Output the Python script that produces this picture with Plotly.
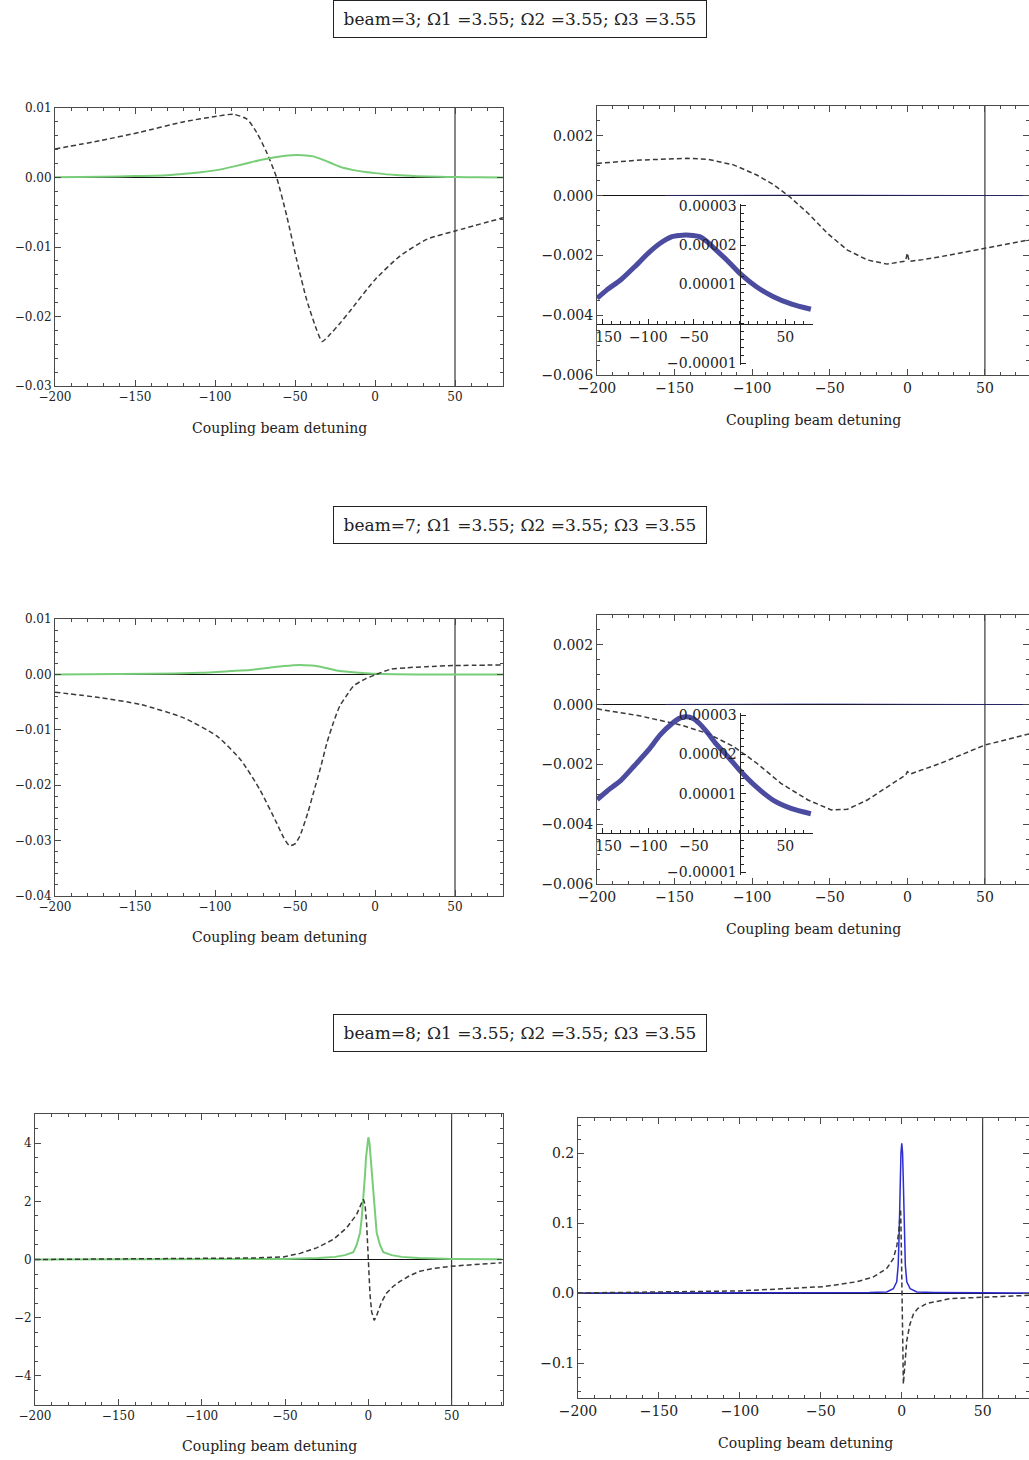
import plotly.graph_objects as go

W, H = 1029, 1460

# ---------------- data ----------------
titles = ["beam=3; \u03a91 =3.55; \u03a92 =3.55; \u03a93 =3.55",
          "beam=7; \u03a91 =3.55; \u03a92 =3.55; \u03a93 =3.55",
          "beam=8; \u03a91 =3.55; \u03a92 =3.55; \u03a93 =3.55"]
x_title = "Coupling beam detuning"
axes_origin_x = 50

# Panel 1 (beam=3, left)
p1_dash_x = [-200, -172, -147, -120, -99, -88.5, -80, -74, -67.7, -61.5, -55.2, -49, -42.7, -36.5, -33, -29, -22, -15.6, 0, 15.6, 32.3, 50, 80]
p1_dash_y = [0.0041, 0.0053, 0.0065, 0.0080, 0.0088, 0.0091, 0.0084, 0.0065, 0.0036, 0.0, -0.0055, -0.0118, -0.0176, -0.0219, -0.0236, -0.0228, -0.0210, -0.0192, -0.0147, -0.0113, -0.0089, -0.0077, -0.0058]
p1_green_x = [-200, -170, -150, -130, -115, -99, -88, -78, -70, -63.5, -56, -49, -43, -38.5, -32, -26, -20, -13.5, -6, 0, 13, 26, 40, 50, 65, 80]
p1_green_y = [0.00005, 0.0001, 0.0002, 0.00034, 0.0006, 0.00106, 0.0016, 0.00217, 0.0026, 0.00289, 0.00313, 0.00323, 0.00318, 0.00304, 0.0025, 0.00193, 0.0014, 0.00106, 0.0008, 0.00063, 0.00035, 0.00019, 0.0001, 0.00006, 0.00003, 0.00001]

# Panel 2 (beam=3, right)
p2_dash_x = [-200, -172, -142, -129, -112, -97, -86, -76, -64, -51.5, -38.6, -25.8, -12.9, -4.3, -1.2, 0, 1.2, 10, 21.5, 50, 78.4]
p2_dash_y = [0.00108, 0.00119, 0.00125, 0.00122, 0.00103, 0.00069, 0.00036, -0.00003, -0.00059, -0.00126, -0.00182, -0.00215, -0.00229, -0.00222, -0.00219, -0.00192, -0.00220, -0.00214, -0.00204, -0.00176, -0.00148]
inset_x = [-156, -145, -130, -115, -100, -87, -74, -66, -59, -51, -44, -35, -26, -13, 0, 18, 37, 57, 78]
p2_inset_y = [0.65e-5, 0.87e-5, 1.12e-5, 1.45e-5, 1.80e-5, 2.05e-5, 2.22e-5, 2.25e-5, 2.26e-5, 2.25e-5, 2.22e-5, 2.08e-5, 1.88e-5, 1.60e-5, 1.29e-5, 0.95e-5, 0.69e-5, 0.50e-5, 0.37e-5]

# Panel 3 (beam=7, left)
p3_dash_x = [-200, -172, -147, -120, -99, -84, -72, -61.5, -57, -53.5, -50, -47, -42, -38.5, -34, -30, -26, -22, -17, -13.5, -6, 0, 9.4, 20, 32, 50, 80]
p3_dash_y = [-0.0032, -0.0042, -0.0054, -0.0078, -0.0111, -0.0154, -0.0208, -0.0268, -0.0295, -0.0309, -0.0306, -0.0292, -0.0250, -0.0214, -0.0168, -0.0123, -0.0087, -0.0057, -0.0035, -0.0021, -0.0008, -0.0001, 0.0009, 0.0012, 0.0014, 0.0016, 0.0017]
p3_green_x = [-200, -140, -109, -90, -78, -66, -57, -47, -40, -36.5, -30, -22, -10, 0, 26, 80]
p3_green_y = [0.0, 0.0001, 0.0003, 0.0006, 0.0008, 0.0012, 0.0015, 0.0017, 0.0016, 0.0015, 0.0011, 0.0006, 0.0003, 0.0001, 0.0, 0.0]

# Panel 4 (beam=7, right)
p4_dash_x = [-200, -172, -146, -129, -112, -97, -81.5, -64, -49, -38.6, -25.8, -10.7, -1, 0, 2, 21.5, 50, 78.4]
p4_dash_y = [-0.00014, -0.00038, -0.00068, -0.00096, -0.00140, -0.00196, -0.00263, -0.00319, -0.00352, -0.00350, -0.00319, -0.00269, -0.00235, -0.00224, -0.00232, -0.00196, -0.00135, -0.00098]
p4_inset_y = [0.85e-5, 1.07e-5, 1.34e-5, 1.72e-5, 2.11e-5, 2.50e-5, 2.79e-5, 2.92e-5, 2.96e-5, 2.92e-5, 2.79e-5, 2.55e-5, 2.28e-5, 1.95e-5, 1.60e-5, 1.18e-5, 0.83e-5, 0.62e-5, 0.49e-5]

# Panel 5 (beam=8, left)
p5_green_x = [-200, -100, -50, -30, -20, -14, -9, -7, -5, -4, -3, -2, -1.4, -0.7, 0, 0.7, 1.4, 2, 3, 4, 5, 7, 9, 14, 20, 30, 50, 80]
p5_green_y = [0.0, 0.01, 0.02, 0.05, 0.09, 0.15, 0.25, 0.5, 0.92, 1.4, 2.07, 2.9, 3.5, 4.0, 4.2, 4.0, 3.5, 2.9, 2.07, 1.4, 0.92, 0.5, 0.25, 0.15, 0.09, 0.05, 0.02, 0.01]
p5_dash_x = [-200, -150, -101, -70, -51, -41, -31, -21, -13, -7, -4, -3, -2, -1, 0, 1, 2, 3, 3.5, 4.5, 6, 8, 11, 15, 19, 25, 31, 40, 50, 65, 80]
p5_dash_y = [0.0, 0.01, 0.02, 0.05, 0.09, 0.21, 0.40, 0.69, 1.09, 1.55, 1.95, 2.07, 1.9, 1.2, 0.0, -1.2, -1.8, -2.05, -2.09, -2.0, -1.75, -1.45, -1.15, -0.92, -0.75, -0.55, -0.40, -0.30, -0.23, -0.16, -0.11]

# Panel 6 (beam=8, right)
p6_blue_x = [-200, -100, -50, -20, -9.3, -5.2, -3.1, -2.2, -1.6, -1, -0.5, 0, 0.5, 1, 1.6, 2.2, 3.1, 5.2, 9.3, 20, 50, 78.6]
p6_blue_y = [0.0, 0.0, 0.0003, 0.0008, 0.0015, 0.006, 0.016, 0.04, 0.085, 0.156, 0.20, 0.214, 0.20, 0.156, 0.085, 0.04, 0.016, 0.006, 0.0015, 0.0008, 0.0003, 0.0]
p6_dash_x = [-200, -100, -48.5, -27.8, -17.5, -9.3, -5.2, -3, -2, -1.2, -0.7, -0.3, 0, 0.3, 0.6, 1, 1.5, 2, 3.1, 5, 7.2, 10, 15.5, 30, 50, 78.6]
p6_dash_y = [0.0, 0.003, 0.009, 0.016, 0.023, 0.035, 0.049, 0.068, 0.085, 0.115, 0.12, 0.07, 0.0, -0.06, -0.10, -0.13, -0.115, -0.096, -0.068, -0.045, -0.030, -0.022, -0.015, -0.008, -0.0057, -0.0033]

inset_xticks = [-150, -100, -50, 50]
inset_yticks = [-1e-5, 1e-5, 2e-5, 3e-5]
inset_yticktext = ["\u22120.00001", "0.00001", "0.00002", "0.00003"]

# ---------------- styling / layout helpers ----------------
FONT = "DejaVu Serif, Liberation Serif, serif"
FRAME = "#4a4a4a"
DASH = dict(color="#3a3a3a", width=1.5, dash="5px,3px")
GREEN = dict(color="rgb(120,205,120)", width=2)
INSET_BLUE = dict(color="rgba(55,55,150,0.9)", width=5)
MAIN_BLUE = dict(color="rgba(60,60,170,0.55)", width=1)
THIN_BLUE = dict(color="rgb(45,45,210)", width=1.5)


def PX(p):
    return p / W


def PY(p):
    return 1 - p / H


# pixel boxes: (left, right, top, bottom), x range, y range, y dtick, y minor, y fmt, font size
panels = [
    ((55, 503, 108, 386), [-200, 80], [-0.03, 0.01], 0.01, 0.002, ".2f", 12),
    ((597, 1029, 106, 375), [-200, 78.4], [-0.006, 0.003], 0.002, 0.0005, ".3f", 14),
    ((55, 503, 619, 896), [-200, 80], [-0.04, 0.01], 0.01, 0.002, ".2f", 12),
    ((597, 1029, 615, 884), [-200, 78.4], [-0.006, 0.003], 0.002, 0.0005, ".3f", 14),
    ((35, 503, 1114, 1405), [-200, 80.8], [-5, 5], 2, 0.5, "d", 12),
    ((578, 1029, 1118, 1398), [-200, 78.6], [-0.15, 0.25], 0.1, 0.02, ".1f", 14),
]
title_pos = [(279, 428), (813, 420), (279, 937), (813, 929), (269, 1446), (805, 1443)]
box_centers = [18.5, 524.5, 1033]

fig = go.Figure()
layout = dict(width=W, height=H, margin=dict(l=0, r=0, t=0, b=0, autoexpand=False),
              paper_bgcolor="white", plot_bgcolor="rgba(0,0,0,0)",
              showlegend=False, font=dict(family=FONT, color="#222"))

shapes = []
annotations = []
for i, (box, xr, yr, ydt, ymin, yfmt, fs) in enumerate(panels, start=1):
    l, r, t, b = box
    sx = "" if i == 1 else str(i)
    layout["xaxis" + sx] = dict(
        domain=[PX(l), PX(r)], range=xr, anchor="y" + sx,
        showline=True, mirror="allticks", linecolor=FRAME, linewidth=1,
        ticks="inside", ticklen=6, tickcolor=FRAME, tickwidth=1,
        tick0=0, dtick=50, showgrid=False, zeroline=False, automargin=False,
        minor=dict(ticks="inside", ticklen=3, dtick=10, tick0=0, tickcolor=FRAME, showgrid=False),
        tickfont=dict(size=fs, family=FONT, color="#222"))
    layout["yaxis" + sx] = dict(
        domain=[PY(b), PY(t)], range=yr, anchor="x" + sx,
        showline=True, mirror="allticks", linecolor=FRAME, linewidth=1,
        ticks="inside", ticklen=6, tickcolor=FRAME, tickwidth=1,
        tick0=0, dtick=ydt, tickformat=yfmt, showgrid=False, automargin=False,
        zeroline=True, zerolinecolor="#111", zerolinewidth=1,
        minor=dict(ticks="inside", ticklen=3, dtick=ymin, tick0=0, tickcolor=FRAME, showgrid=False),
        tickfont=dict(size=fs, family=FONT, color="#222"))
    shapes.append(dict(type="line", xref="x" + sx, yref="y" + sx + " domain",
                       x0=axes_origin_x, x1=axes_origin_x, y0=0, y1=1,
                       line=dict(color="#111", width=1), layer="below"))
    tx, ty = title_pos[i - 1]
    annotations.append(dict(text=x_title, xref="paper", yref="paper", x=PX(tx), y=PY(ty),
                            showarrow=False, font=dict(size=14, family=FONT, color="#222"),
                            xanchor="center", yanchor="middle"))

for txt, cy in zip(titles, box_centers):
    annotations.append(dict(text=txt, xref="paper", yref="paper", x=PX(520), y=PY(cy),
                            showarrow=False, font=dict(size=17, family=FONT, color="#222"),
                            xanchor="center", yanchor="middle",
                            bordercolor="#222", borderwidth=1, borderpad=1,
                            width=370, height=34, bgcolor="white"))

# inset axes (7 -> in panel 2, 8 -> in panel 4)
insets = [
    ("7", (596.7, 812.7), (204, 365), 324, [-1.05e-5, 3.05e-5]),
    ("8", (596.7, 812.7), (713.3, 875), 832.7, [-1.07e-5, 3.05e-5]),
]
for s, (l, r), (t, b), y0pix, yr in insets:
    layout["xaxis" + s] = dict(
        domain=[PX(l), PX(r)], range=[-156.5, 80], anchor="free", position=PY(y0pix),
        showline=True, linecolor="#222", linewidth=1, ticks="inside", ticklen=5,
        tickcolor="#222", tickmode="array", tickvals=inset_xticks,
        showgrid=False, zeroline=False, automargin=False,
        minor=dict(ticks="inside", ticklen=3, tickmode="linear", tick0=0, dtick=10, tickcolor="#222"),
        tickfont=dict(size=14, family=FONT, color="#222"))
    layout["yaxis" + s] = dict(
        domain=[PY(b), PY(t)], range=yr, anchor="free", position=PX(739.5),
        showline=True, linecolor="#222", linewidth=1, ticks="inside", ticklen=5,
        tickcolor="#222", tickmode="array", tickvals=inset_yticks, ticktext=inset_yticktext,
        showgrid=False, zeroline=False, automargin=False,
        minor=dict(ticks="inside", ticklen=3, tickmode="linear", tick0=0, dtick=2e-6, tickcolor="#222"),
        tickfont=dict(size=14, family=FONT, color="#222"))
    # hide the part of the "-150" label that the original clips at the frame edge
    shapes.append(dict(type="rect", xref="paper", yref="paper",
                       x0=PX(566), x1=PX(596.2), y0=PY(y0pix + 26), y1=PY(y0pix + 7),
                       fillcolor="white", line=dict(width=0), layer="above"))


def add(x, y, ax, line, shape="spline"):
    fig.add_trace(go.Scatter(x=x, y=y, mode="lines", line=dict(shape=shape, smoothing=0.6, **line),
                             xaxis="x" + ax, yaxis="y" + ax, hoverinfo="skip"))


add(p1_dash_x, p1_dash_y, "", DASH)
add(p1_green_x, p1_green_y, "", GREEN)
add(inset_x, p2_inset_y, "2", MAIN_BLUE)
add(p2_dash_x, p2_dash_y, "2", DASH, shape="linear")
add(p3_green_x, p3_green_y, "3", GREEN)
add(p3_dash_x, p3_dash_y, "3", DASH)
add(inset_x, p4_inset_y, "4", MAIN_BLUE)
add(p4_dash_x, p4_dash_y, "4", DASH, shape="linear")
add(p5_green_x, p5_green_y, "5", GREEN, shape="linear")
add(p5_dash_x, p5_dash_y, "5", DASH, shape="linear")
add(p6_blue_x, p6_blue_y, "6", THIN_BLUE, shape="linear")
add(p6_dash_x, p6_dash_y, "6", DASH, shape="linear")
add(inset_x, p2_inset_y, "7", INSET_BLUE)
add(inset_x, p4_inset_y, "8", INSET_BLUE)

layout["shapes"] = shapes
layout["annotations"] = annotations
fig.update_layout(**layout)
fig.write_html("out.html", config={"displayModeBar": False},
               post_script="document.body.style.margin='0px';document.body.style.overflow='hidden';")
